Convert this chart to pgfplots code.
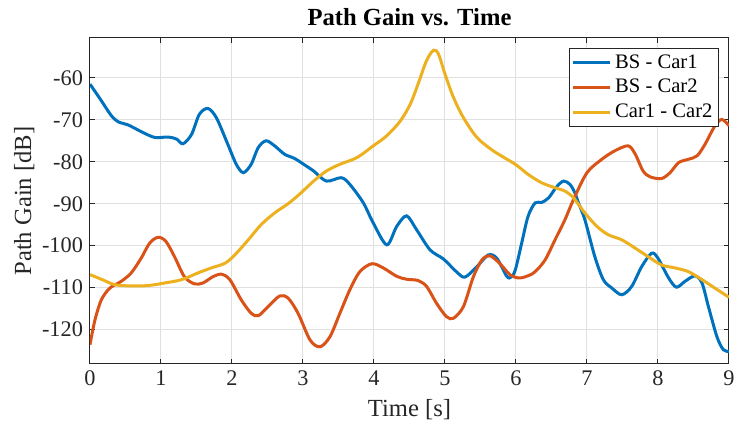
\documentclass[border=0pt]{standalone}
\usepackage{fontspec}
\setmainfont{Liberation Serif}
\usepackage{pgfplots}
\pgfplotsset{compat=1.18}
\definecolor{mblue}{rgb}{0,0.447,0.741}
\definecolor{morange}{rgb}{0.85,0.325,0.098}
\definecolor{myellow}{rgb}{0.929,0.694,0.125}
\definecolor{axgray}{rgb}{0.15,0.15,0.15}
\begin{document}
\begin{tikzpicture}
\useasboundingbox (-45pt,-31pt) rectangle (322.5pt,182pt);
\begin{axis}[
  scale only axis,
  width=319.5pt, height=163pt,
  xmin=0, xmax=9, ymin=-128.2, ymax=-50.5,
  xtick={0,1,...,9},
  ytick={-120,-110,-100,-90,-80,-70,-60},
  /pgf/number format/assume math mode=true,
  tick label style={font=\fontsize{11.15}{13}\selectfont, text=axgray},
  label style={font=\fontsize{12.3}{14}\selectfont, text=axgray},
  title style={font=\fontsize{12.3}{14}\selectfont\bfseries, yshift=-3.5pt},
  title={Path Gain vs. Time},
  xlabel={Time [s]},
  ylabel={Path Gain [dB]},
  ylabel shift=-3pt,
  grid=major,
  major grid style={line width=0.5pt, draw=black!12},
  axis line style={line width=0.5pt, draw=axgray},
  tick style={line width=0.5pt, draw=axgray},
  major tick length=2.5pt,
  tick align=inside,
  legend cell align=left,
  legend style={at={(1,1)}, anchor=north east, xshift=-5pt, yshift=-5pt,
    font=\fontsize{10.3}{12}\selectfont, draw=axgray, line width=0.5pt,
    inner xsep=1pt, inner ysep=1pt, row sep=0pt},
  legend image code/.code={\draw[#1, line width=1.5pt] (0pt,0pt) -- (18.5pt,0pt);},
  every axis plot/.append style={line width=1.5pt, smooth, tension=0.5},
]
\addplot[mblue] coordinates {
(0,-61.5)(0.15,-65.2)(0.3,-69.0)(0.4,-70.5)(0.535,-71.2)(0.72,-72.8)(0.91,-74.2)(1.1,-74.1)(1.22,-74.6)(1.31,-75.7)(1.43,-73.5)(1.54,-68.7)(1.66,-67.3)(1.78,-69.5)(1.94,-75.8)(2.06,-80.6)(2.16,-82.6)(2.27,-80.6)(2.37,-76.6)(2.48,-75.0)(2.6,-76.2)(2.74,-78.2)(2.88,-79.2)(3.0,-80.5)(3.15,-82.2)(3.33,-84.6)(3.54,-83.8)(3.66,-85.4)(3.85,-89.8)(3.99,-94.6)(4.18,-99.8)(4.32,-95.4)(4.46,-92.9)(4.60,-96.2)(4.79,-101.0)(4.98,-103.2)(5.16,-106.2)(5.28,-107.5)(5.45,-105.0)(5.61,-102.2)(5.73,-103.0)(5.87,-107.3)(5.93,-107.5)(5.99,-105.8)(6.08,-99.4)(6.17,-93.0)(6.27,-89.8)(6.36,-89.7)(6.46,-88.6)(6.57,-86.0)(6.67,-84.6)(6.76,-85.4)(6.83,-87.4)(6.88,-89.8)(6.97,-93.8)(7.11,-102.6)(7.23,-108.1)(7.35,-110.1)(7.49,-111.7)(7.63,-109.7)(7.77,-105.0)(7.91,-101.8)(8.0,-103.0)(8.15,-107.7)(8.26,-109.9)(8.38,-108.5)(8.52,-107.2)(8.62,-108.9)(8.71,-114.5)(8.83,-121.7)(8.92,-124.8)(9.0,-125.2)
};
\addlegendentry{BS - Car1}
\addplot[morange] coordinates {
(0,-123.6)(0.07,-117.7)(0.16,-112.9)(0.28,-110.1)(0.44,-108.5)(0.58,-106.5)(0.72,-103.0)(0.84,-99.4)(0.96,-98.0)(1.07,-99.0)(1.19,-102.6)(1.33,-107.4)(1.47,-109.1)(1.59,-108.9)(1.73,-107.4)(1.85,-106.8)(1.97,-108.1)(2.13,-112.9)(2.27,-116.1)(2.37,-116.7)(2.51,-114.5)(2.67,-112.0)(2.79,-112.5)(2.93,-116.1)(3.10,-122.5)(3.24,-124.1)(3.38,-121.7)(3.52,-116.1)(3.66,-110.5)(3.80,-106.2)(3.97,-104.3)(4.13,-105.3)(4.32,-107.3)(4.46,-108.0)(4.62,-108.3)(4.74,-109.7)(4.88,-113.7)(5.02,-116.9)(5.12,-117.3)(5.26,-114.5)(5.40,-107.4)(5.52,-103.4)(5.63,-102.4)(5.77,-104.2)(5.92,-107.0)(6.05,-107.7)(6.18,-107.1)(6.27,-106.2)(6.41,-103.4)(6.55,-98.6)(6.69,-93.8)(6.81,-89.0)(7.0,-82.6)(7.21,-79.4)(7.39,-77.4)(7.58,-76.2)(7.68,-78.2)(7.79,-82.2)(7.89,-83.6)(8.05,-84.0)(8.17,-82.6)(8.29,-80.2)(8.43,-79.4)(8.55,-78.6)(8.66,-75.9)(8.80,-71.5)(8.90,-69.9)(9.0,-71.4)
};
\addlegendentry{BS - Car2}
\addplot[myellow] coordinates {
(0,-106.9)(0.16,-108.0)(0.35,-109.3)(0.58,-109.6)(0.82,-109.5)(1.05,-108.9)(1.29,-108.1)(1.52,-106.5)(1.71,-105.3)(1.90,-104.2)(2.04,-102.2)(2.23,-98.6)(2.41,-95.0)(2.60,-92.2)(2.79,-90.0)(2.96,-87.6)(3.15,-84.6)(3.33,-82.2)(3.52,-80.6)(3.76,-79.0)(3.99,-76.2)(4.18,-73.8)(4.37,-70.3)(4.51,-66.3)(4.62,-61.5)(4.74,-55.9)(4.84,-53.4)(4.91,-54.4)(5.0,-59.1)(5.12,-64.7)(5.26,-69.5)(5.45,-74.2)(5.68,-77.4)(5.99,-80.6)(6.17,-83.0)(6.36,-85.0)(6.55,-86.2)(6.69,-87.0)(6.81,-88.6)(6.97,-92.2)(7.14,-95.4)(7.30,-97.4)(7.49,-98.6)(7.68,-100.6)(7.86,-102.6)(8.05,-104.6)(8.24,-105.3)(8.43,-106.2)(8.62,-108.1)(8.80,-110.1)(9.0,-112.3)
};
\addlegendentry{Car1 - Car2}
\end{axis}
\end{tikzpicture}
\end{document}
